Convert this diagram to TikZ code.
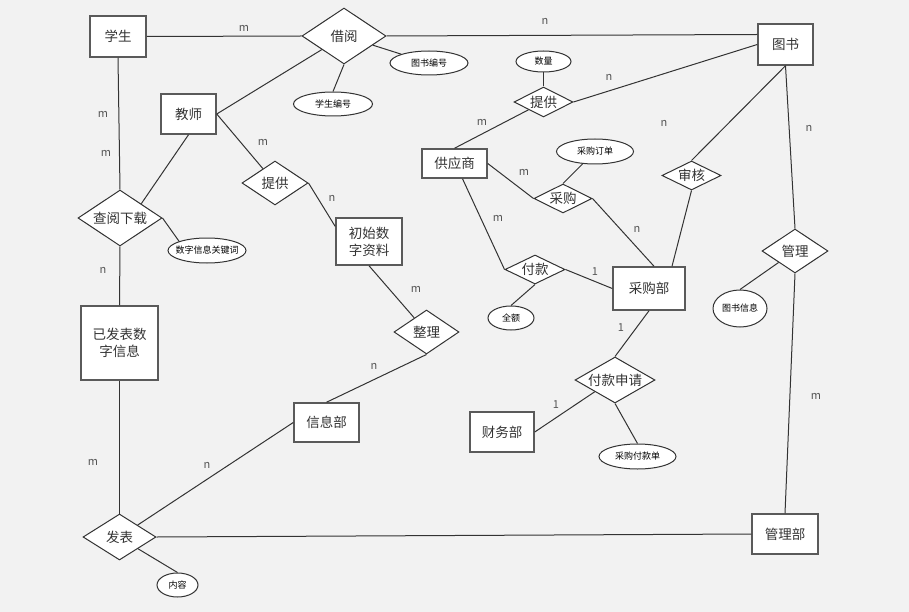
\documentclass[tikz,border=0pt]{standalone}
\usepackage{fontspec}
\usetikzlibrary{shapes.geometric}
\newfontfamily\cjk{Noto Sans CJK SC}
\definecolor{PaperGray}{RGB}{242,242,242}
\definecolor{InkGray}{RGB}{51,51,51}
\definecolor{BoxGray}{RGB}{90,90,90}
\definecolor{CardGray}{RGB}{85,85,85}
\tikzset{
  entity/.style={draw=BoxGray,fill=white,line width=1.5pt,inner sep=0pt,
    text=InkGray,align=center,font=\cjk\fontsize{13.5}{17}\selectfont},
  relation/.style={diamond,draw=InkGray,fill=white,line width=1pt,aspect=2,
    inner xsep=0pt,inner ysep=-4pt,text=InkGray,font=\cjk\fontsize{13.5}{17}\selectfont},
  attribute/.style={ellipse,draw=InkGray,fill=white,line width=1pt,
    inner ysep=0pt,inner xsep=-8pt,text=black,font=\cjk\fontsize{9}{11}\selectfont},
  card/.style={text=CardGray,inner sep=0pt,font=\cjk\fontsize{11}{13}\selectfont},
  link/.style={InkGray,line width=1pt}
}

\begin{document}
\begin{tikzpicture}[x=1pt,y=-1pt]
  \fill[PaperGray] (0,0) rectangle (909,612);

  % Entities
  \node[entity,minimum width=56pt,minimum height=41pt] (student) at (118,36.5) {学生};
  \node[entity,minimum width=55pt,minimum height=41pt] (book) at (785.5,44.5) {图书};
  \node[entity,minimum width=55pt,minimum height=40pt] (teacher) at (188.5,114) {教师};
  \node[entity,minimum width=65pt,minimum height=29pt] (supplier) at (454.5,163.5) {供应商};
  \node[entity,minimum width=66pt,minimum height=47pt] (rawdata) at (369,241.5) {初始数\\字资料};
  \node[entity,minimum width=72pt,minimum height=43pt] (purdept) at (649,288.5) {采购部};
  \node[entity,minimum width=77pt,minimum height=74pt] (published) at (119.5,343) {已发表数\\字信息};
  \node[entity,minimum width=65pt,minimum height=39pt] (infodept) at (326.5,422.5) {信息部};
  \node[entity,minimum width=64pt,minimum height=40pt] (finance) at (502,432) {财务部};
  \node[entity,minimum width=66pt,minimum height=40pt] (mgmtdept) at (785,534) {管理部};

  % Relations
  \node[relation,minimum width=84pt,minimum height=56pt] (borrow) at (344,36) {借阅};
  \node[relation,minimum width=59pt,minimum height=30pt] (supply) at (543.5,102) {提供};
  \node[relation,minimum width=66pt,minimum height=44pt] (provide) at (275,183) {提供};
  \node[relation,minimum width=58pt,minimum height=29pt] (purchase) at (563,198.5) {采购};
  \node[relation,minimum width=59pt,minimum height=29pt] (audit) at (691.5,175.5) {审核};
  \node[relation,minimum width=84pt,minimum height=56pt] (browse) at (120,218) {查阅下载};
  \node[relation,minimum width=66pt,minimum height=44pt] (manage) at (795,251) {管理};
  \node[relation,minimum width=60pt,minimum height=29pt] (pay) at (535,269.5) {付款};
  \node[relation,minimum width=65pt,minimum height=44pt] (sort) at (426.5,332) {整理};
  \node[relation,minimum width=80pt,minimum height=46pt] (payreq) at (615,380) {付款申请};
  \node[relation,minimum width=73pt,minimum height=46pt] (publish) at (119.5,537) {发表};

  % Attributes
  \node[attribute,minimum width=78pt,minimum height=24pt] (bookno) at (429,63) {图书编号};
  \node[attribute,minimum width=79pt,minimum height=24pt] (stuno) at (333,104) {学生编号};
  \node[attribute,minimum width=55pt,minimum height=21pt] (qty) at (543.5,61.5) {数量};
  \node[attribute,minimum width=77pt,minimum height=25pt] (order) at (595,151.5) {采购订单};
  \node[attribute,minimum width=78pt,minimum height=25pt] (keyword) at (207,250.5) {数字信息关键词};
  \node[attribute,minimum width=54pt,minimum height=37pt] (bookinfo) at (740,308.5) {图书信息};
  \node[attribute,minimum width=46pt,minimum height=24pt] (amount) at (511,318) {全额};
  \node[attribute,minimum width=77pt,minimum height=25pt] (payslip) at (637.5,456.5) {采购付款单};
  \node[attribute,minimum width=41pt,minimum height=24pt] (content) at (177.5,585) {内容};

  % Connectors
  \draw[link] (student.east) -- (borrow.west);
  \draw[link] (borrow.east) -- ([yshift=10pt]book.west);
  \draw[link] (borrow) -- (bookno);
  \draw[link] (borrow.south) -- (stuno.north);
  \draw[link] (teacher.east) -- (borrow);
  \draw[link] (student.south) -- (browse.north);
  \draw[link] (teacher.south) -- (browse.north east);
  \draw[link] (teacher.east) -- (provide);
  \draw[link] (provide.east) -- (rawdata.156);
  \draw[link] (rawdata.south) -- (sort);
  \draw[link] (sort.south) -- (infodept.north);
  \draw[link] (infodept.west) -- (publish);
  \draw[link] (browse.east) -- (keyword.north west);
  \draw[link] (browse.south) -- (published.north);
  \draw[link] (published.south) -- (publish.north);
  \draw[link] (publish.east) -- (mgmtdept.west);
  \draw[link] (publish.south east) -- (content.north);
  \draw[link] (book.west) -- (supply.east);
  \draw[link] (supply) -- (supplier.north);
  \draw[link] (qty.south) -- (supply.north);
  \draw[link] (supplier.east) -- (purchase.west);
  \draw[link] (order) -- (purchase.north);
  \draw[link] (purchase.east) -- ([xshift=5pt]purdept.north);
  \draw[link] (book.south) -- (audit.north);
  \draw[link] (audit.south) -- ([xshift=23pt]purdept.north);
  \draw[link] (book.south) -- (manage.north);
  \draw[link] (manage.south) -- (mgmtdept.north);
  \draw[link] (manage) -- (bookinfo.north);
  \draw[link] ([xshift=8pt]supplier.south) -- (pay.west);
  \draw[link] (pay.east) -- (purdept.west);
  \draw[link] (pay.south) -- (amount.north);
  \draw[link] (purdept.south) -- (payreq.north);
  \draw[link] (payreq.south west) -- (finance.east);
  \draw[link] (payreq.south) -- (payslip.north);

  % Cardinalities
  \node[card] (c1) at (244,28) {m};
  \node[card] (c2) at (545,21) {n};
  \node[card] (c3) at (103,114) {m};
  \node[card] (c4) at (106,153) {m};
  \node[card] (c5) at (263,142) {m};
  \node[card] (c6) at (332,198) {n};
  \node[card] (c7) at (416,289) {m};
  \node[card] (c8) at (374,366) {n};
  \node[card] (c9) at (207,465) {n};
  \node[card] (c10) at (103,270) {n};
  \node[card] (c11) at (93,462) {m};
  \node[card] (c12) at (609,77) {n};
  \node[card] (c13) at (482,122) {m};
  \node[card] (c14) at (524,172) {m};
  \node[card] (c15) at (637,229) {n};
  \node[card] (c16) at (664,123) {n};
  \node[card] (c17) at (809,128) {n};
  \node[card] (c18) at (816,396) {m};
  \node[card] (c19) at (498,218) {m};
  \node[card] (c20) at (595,272) {1};
  \node[card] (c21) at (621,328) {1};
  \node[card] (c22) at (556,405) {1};
\end{tikzpicture}
\end{document}
